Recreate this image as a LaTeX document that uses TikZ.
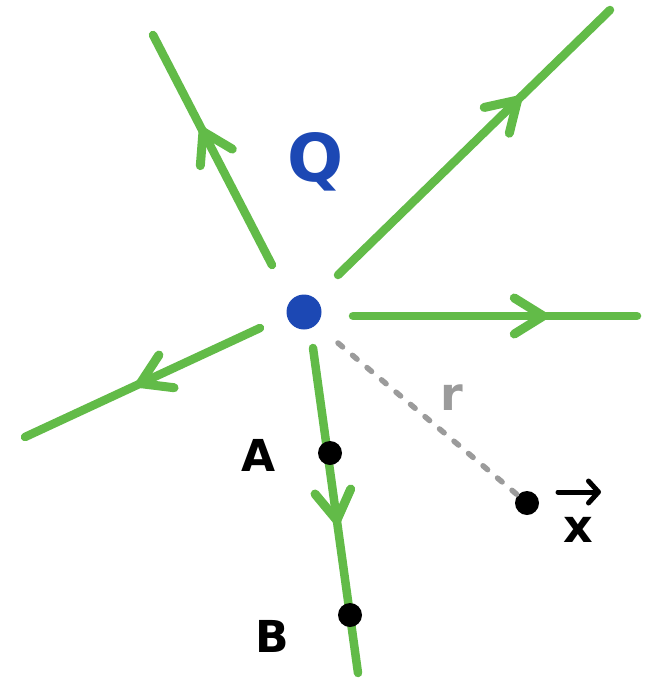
\documentclass[tikz,border=0pt]{standalone}
\usepackage{fontspec}
\setsansfont{DejaVu Sans}
\usetikzlibrary{arrows.meta,decorations.markings}
\definecolor{fieldgreen}{RGB}{98,187,72}
\definecolor{chargeblue}{RGB}{28,72,180}
\definecolor{distgray}{RGB}{155,155,155}
\tikzset{
  fieldline/.style={draw=fieldgreen, line width=8.5pt, line cap=round, line join=round},
  midarrow/.style={postaction={decorate}, decoration={markings,
     mark=at position #1 with {\draw[fieldgreen, line width=9pt, line cap=round, line join=round] (-29pt,18pt) -- (0pt,0pt) -- (-29pt,-18pt);}}},
  blackdot/.style={circle, fill=black, inner sep=0pt, minimum size=24pt},
  lbl/.style={font=\sffamily\bfseries\fontsize{44}{44}\selectfont},
}
\begin{document}
\begin{tikzpicture}[x=1pt,y=-1pt]
\useasboundingbox (0,0) rectangle (655,683);
% charge
\node[circle, fill=chargeblue, inner sep=0pt, minimum size=35pt] (q) at (304,312) {};
% line end coordinates
\coordinate (s1) at (272,265); \coordinate (e1) at (153,35);
\coordinate (s2) at (338,275); \coordinate (e2) at (610,10);
\coordinate (s3) at (353,316); \coordinate (e3) at (637,316);
\coordinate (s4) at (260,328); \coordinate (e4) at (25,437);
\coordinate (s5) at (313,348); \coordinate (e5) at (358,673);
\path[fieldline, midarrow=0.58] (s1) -- (e1);
\path[fieldline, midarrow=0.66] (s2) -- (e2);
\path[fieldline, midarrow=0.67] (s3) -- (e3);
\path[fieldline, midarrow=0.51] (s4) -- (e4);
\path[fieldline, midarrow=0.53] (s5) -- (e5);
% points
\node[blackdot] (a) at (330,453) {};
\node[blackdot] (b) at (350,615) {};
\node[blackdot] (x) at (527,503) {};
% distance
\coordinate (r0) at (338,343);
\draw[distgray, line width=5.5pt, line cap=round, dash pattern=on 6pt off 13pt] (r0) -- (x);
% labels
\node[text=chargeblue, font=\sffamily\bfseries\fontsize{66}{66}\selectfont] (ql) at (316,162) {Q};
\node[text=distgray, font=\sffamily\bfseries\fontsize{46}{46}\selectfont] (rl) at (452,398) {r};
\node[lbl] (al) at (259,455) {A};
\node[lbl] (bl) at (272,636) {B};
\node[font=\sffamily\bfseries\fontsize{46}{46}\selectfont] (xl) at (578,530) {x};
\draw[line width=5pt, line cap=round, -{Straight Barb[length=10pt,width=22pt,line width=5pt,line cap=round,line join=round]}] (558,492) -- (601,492);
\end{tikzpicture}
\end{document}
